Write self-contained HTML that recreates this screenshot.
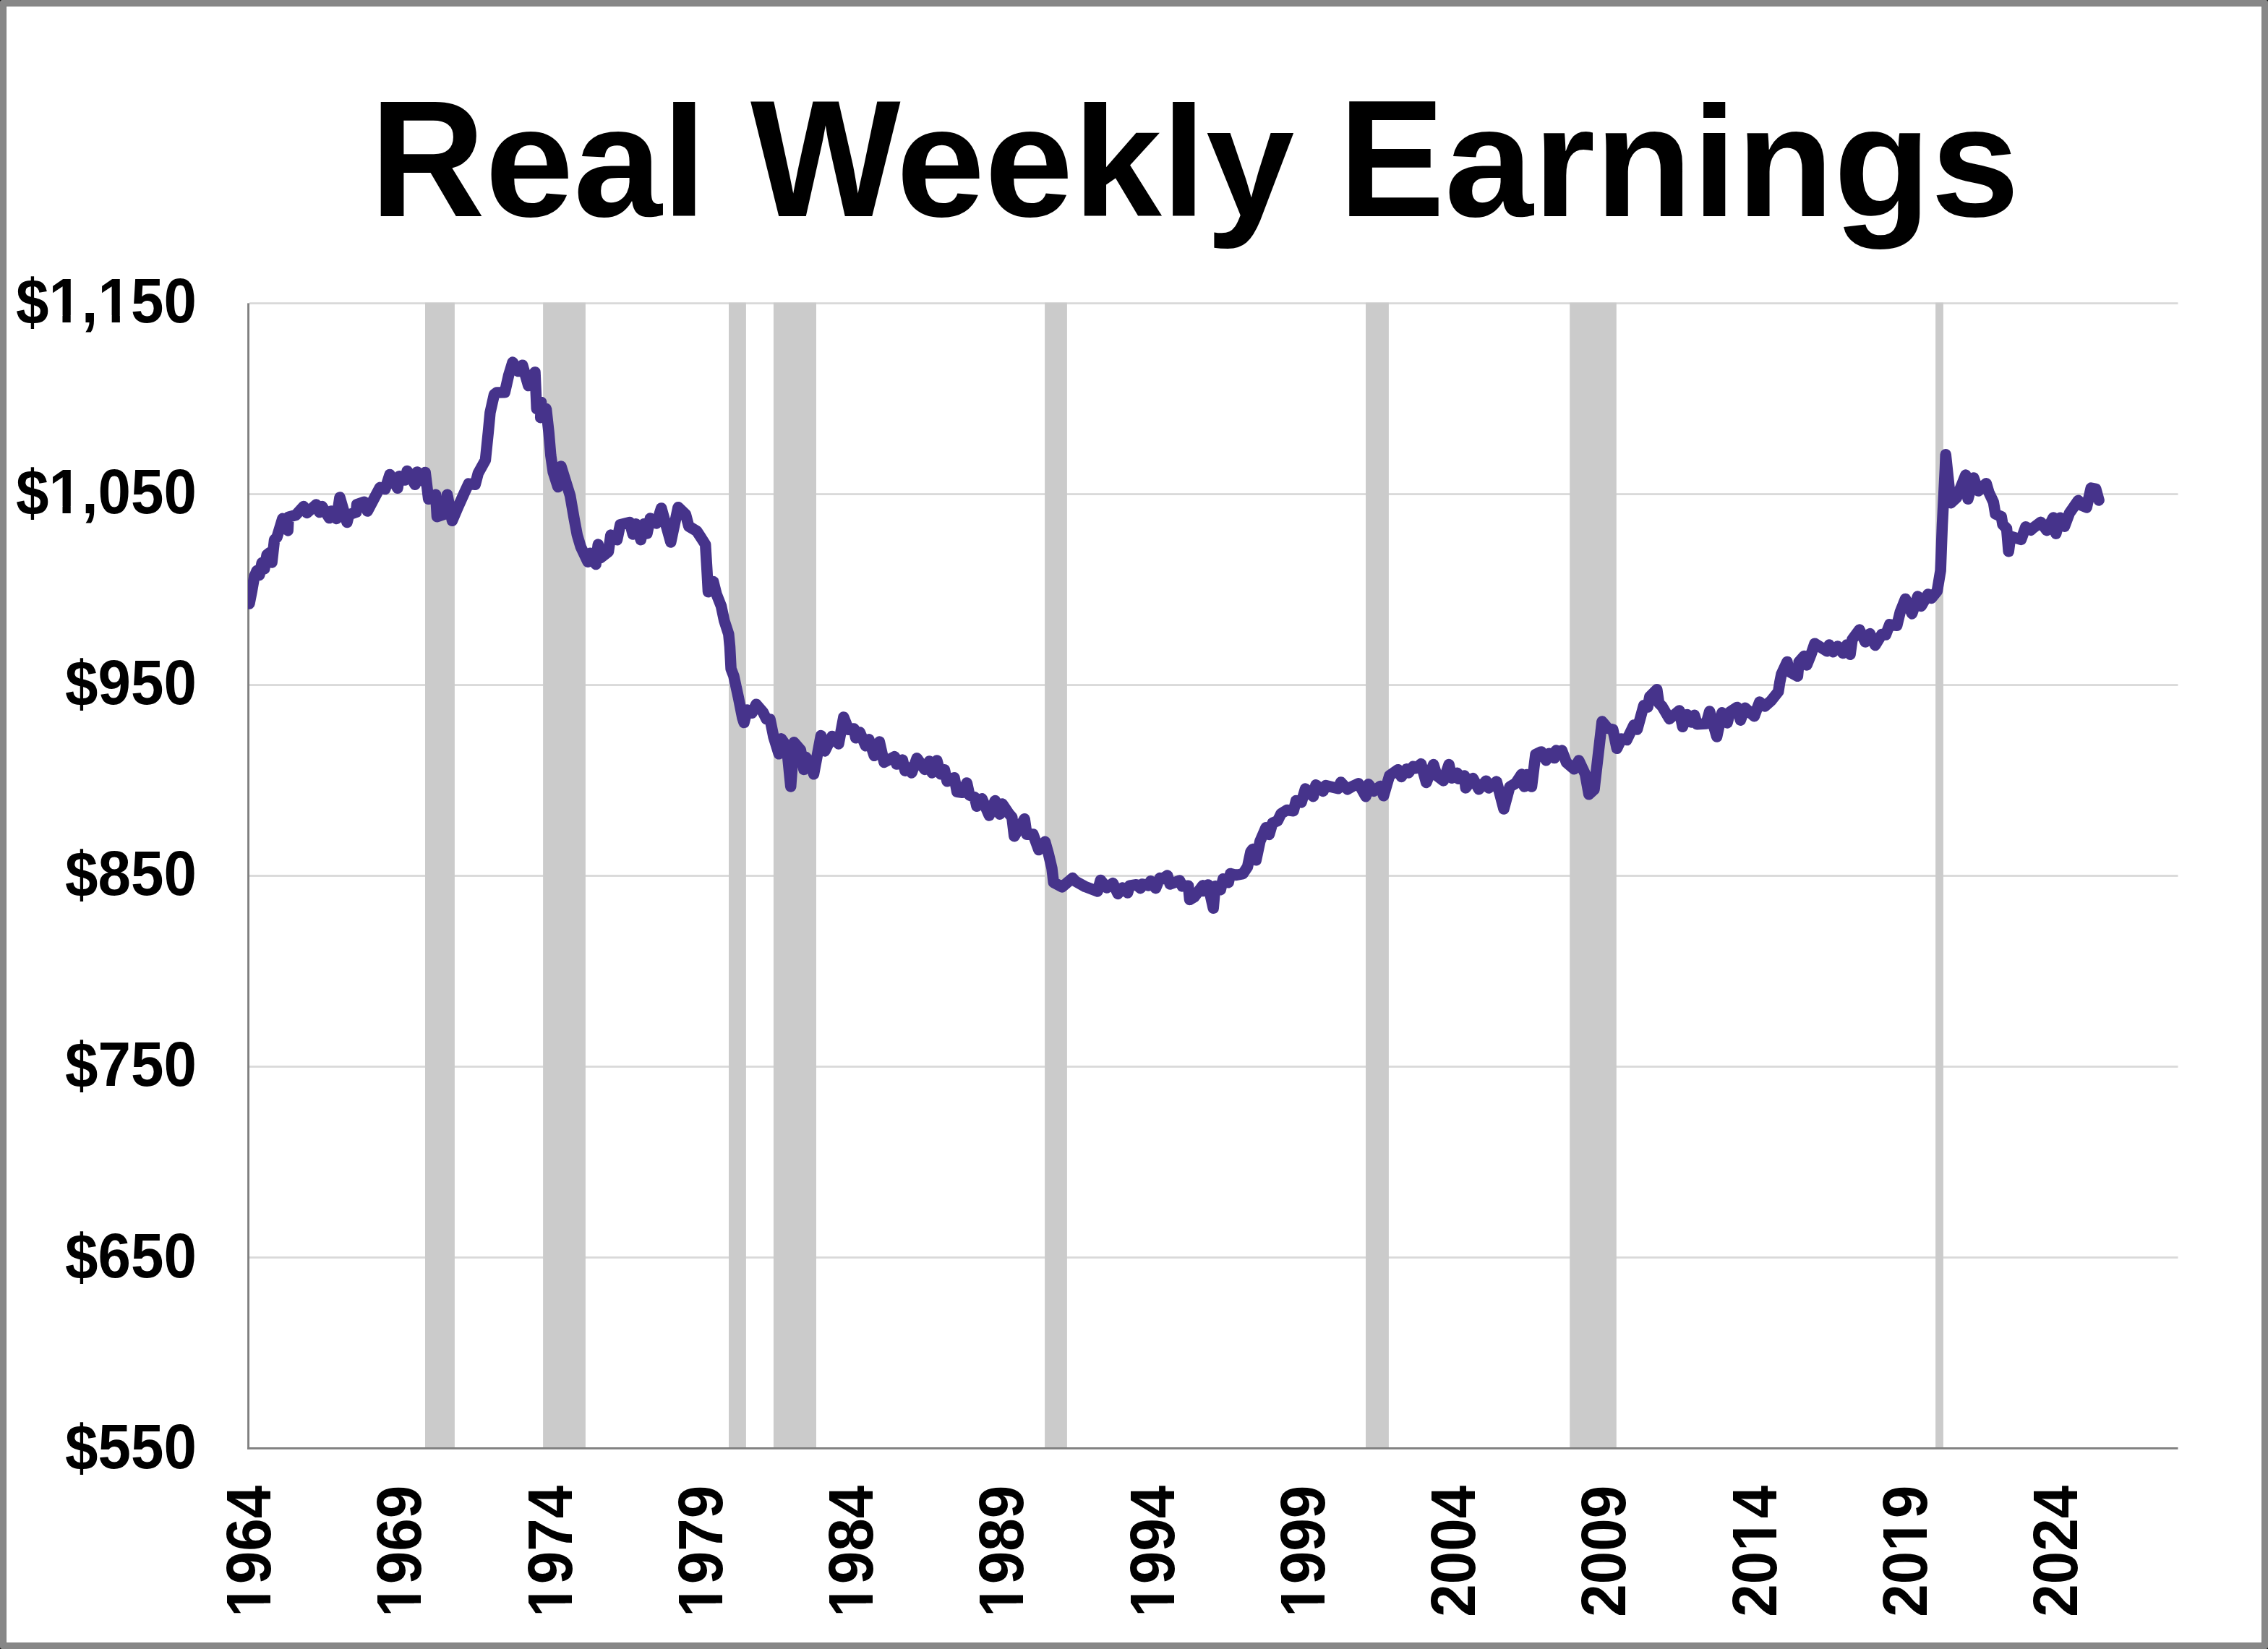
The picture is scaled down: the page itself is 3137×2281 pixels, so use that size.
<!DOCTYPE html>
<html><head><meta charset="utf-8"><title>Real Weekly Earnings</title><style>
html{margin:0;padding:0;background:#fff;}
body{margin:0;padding:0;background:#000;}
body{width:3137px;height:2281px;position:relative;overflow:hidden;font-family:"Liberation Sans",sans-serif;font-weight:bold;color:#000;}
.frame{position:absolute;left:0;top:0;width:3137px;height:2281px;border:8px solid #878787;border-radius:3px;box-sizing:border-box;background:#fff;}
.frame2{position:absolute;left:0;top:0;right:0;bottom:0;border:1px solid #7f7f7f;}
.t{position:absolute;white-space:nowrap;line-height:1;transform-origin:0 186.61px;}
.t span{display:inline-block;transform-origin:0 186.61px;}
.t .c{transform:scaleY(1.041);}
.t .l{transform:scaleY(0.985);}
.yl{position:absolute;font-size:83.50px;line-height:1;white-space:nowrap;text-align:right;width:400px;transform-origin:100% 70.70px;transform:scale(0.979,1.041);}
.xl{position:absolute;font-size:83.50px;line-height:1;white-space:nowrap;transform-origin:0 70.70px;transform:rotate(-90deg) scale(0.979,1.041);}
.o{display:inline-block;clip-path:polygon(0 0,100% 0,100% 60.98px,30.95px 60.98px,30.95px 100%,19.49px 100%,19.49px 60.98px,0 60.98px);}
.d{display:inline-block;transform:translateY(1.6px) scaleY(1.02);}
svg{position:absolute;left:0;top:0;}
</style></head><body>
<div class="frame"><div class="frame2"></div></div>
<div class="t" style="left:512.2px;top:112.8px;font-size:220.40px;transform:scaleX(0.9985);"><span class="c">R</span><span class="l">eal</span> <span class="c" style="margin-right:-6px">W</span><span class="l">eekly</span> <span class="c">E</span><span class="l">arnings</span></div>
<svg width="3137" height="2281" viewBox="0 0 3137 2281">
<defs><clipPath id="pc"><rect x="343" y="300" width="2700" height="1710"/></clipPath></defs>
<rect x="345" y="418.20" width="2667.50" height="2.8" fill="#d9d9d9"/>
<rect x="345" y="682.17" width="2667.50" height="2.8" fill="#d9d9d9"/>
<rect x="345" y="946.13" width="2667.50" height="2.8" fill="#d9d9d9"/>
<rect x="345" y="1210.10" width="2667.50" height="2.8" fill="#d9d9d9"/>
<rect x="345" y="1474.07" width="2667.50" height="2.8" fill="#d9d9d9"/>
<rect x="345" y="1738.03" width="2667.50" height="2.8" fill="#d9d9d9"/>
<rect x="588.00" y="418.7" width="40.90" height="1583.50" fill="#cbcbcb"/>
<rect x="751.10" y="418.7" width="58.80" height="1583.50" fill="#cbcbcb"/>
<rect x="1008.00" y="418.7" width="23.90" height="1583.50" fill="#cbcbcb"/>
<rect x="1069.90" y="418.7" width="59.10" height="1583.50" fill="#cbcbcb"/>
<rect x="1445.10" y="418.7" width="30.80" height="1583.50" fill="#cbcbcb"/>
<rect x="1889.00" y="418.7" width="31.90" height="1583.50" fill="#cbcbcb"/>
<rect x="2171.20" y="418.7" width="64.60" height="1583.50" fill="#cbcbcb"/>
<rect x="2677.10" y="418.7" width="10.80" height="1583.50" fill="#cbcbcb"/>
<rect x="342.1" y="419.4" width="2.9" height="1585.50" fill="#808080"/>
<rect x="342.1" y="2002.0" width="2670.40" height="2.9" fill="#808080"/>
<polyline clip-path="url(#pc)" points="344.9,835.1 348.4,817.3 351.8,797.7 355.3,789.3 358.8,795.5 362.3,778.4 365.7,786.8 369.2,767.5 372.7,764.6 376.1,778.0 379.6,746.7 383.1,743.1 390.9,717.3 398.2,733.9 399.1,715.2 409.1,712.5 420.0,700.6 424.5,709.4 437.3,697.9 441.8,708.5 445.5,700.6 455.5,716.6 458.2,707.0 465.5,717.5 470.0,687.9 480.0,722.5 482.7,711.8 492.7,708.5 493.6,697.9 503.6,694.3 508.2,707.1 525.5,674.3 532.7,676.6 539.1,656.5 550.0,675.3 552.3,658.8 560.0,664.1 563.2,651.5 574.1,670.3 576.8,652.9 582.7,664.8 588.2,653.4 592.7,690.3 602.7,684.3 604.5,714.8 615.5,710.9 618.6,684.3 625.5,720.3 634.1,700.0 642.3,681.8 648.2,669.1 657.3,670.3 661.4,654.5 671.4,636.4 675.3,598.2 677.9,570.9 683.6,545.5 687.3,542.9 698.2,542.7 703.6,519.1 709.1,501.1 716.8,513.6 722.7,505.2 730.9,533.6 740.0,514.7 742.3,565.5 748.6,556.4 747.7,577.7 755.5,565.5 759.1,598.2 761.8,629.9 765.1,652.8 771.7,673.5 776.0,645.1 788.6,685.5 794.3,718.3 798.4,740.1 803.3,756.5 813.1,777.3 816.4,765.2 824.1,780.6 827.3,753.1 830.6,771.7 841.5,763.1 844.8,740.1 853.5,746.7 857.9,725.8 871.0,722.5 875.4,739.1 879.7,724.8 886.3,746.7 890.7,724.8 895.0,738.0 899.4,717.1 908.0,724.0 914.7,702.9 927.8,750.0 938.0,701.7 948.4,711.7 952.7,728.0 963.7,734.6 968.0,741.1 975.7,753.1 977.9,789.2 979.5,818.7 986.6,804.4 991.0,821.9 997.5,838.3 1001.8,858.6 1007.8,877.1 1009.5,894.6 1011.1,925.1 1014.9,935.0 1021.5,965.5 1026.9,992.8 1029.1,999.5 1033.5,981.9 1040.0,986.3 1046.0,974.2 1055.3,985.0 1060.0,994.6 1065.1,995.0 1070.0,1019.1 1077.3,1042.8 1080.5,1021.8 1088.2,1032.8 1093.7,1088.1 1098.2,1026.8 1107.3,1037.3 1111.8,1064.4 1114.6,1047.3 1120.9,1055.7 1125.5,1070.8 1135.5,1017.5 1140.9,1038.9 1151.0,1018.4 1160.0,1028.9 1166.9,992.0 1173.7,1009.1 1181.0,1007.9 1183.7,1020.8 1189.2,1012.9 1197.3,1031.7 1201.9,1022.8 1209.2,1045.3 1216.4,1026.1 1222.8,1054.4 1237.4,1046.6 1240.1,1057.1 1248.3,1051.1 1251.9,1066.2 1258.0,1062.0 1261.0,1069.0 1268.2,1048.8 1279.1,1064.4 1285.5,1052.9 1289.1,1068.9 1295.9,1052.0 1300.9,1070.7 1306.4,1064.7 1310.0,1080.8 1320.0,1075.7 1323.7,1095.3 1330.9,1096.2 1337.3,1082.9 1341.0,1099.8 1348.2,1102.9 1351.0,1115.3 1358.2,1104.8 1368.2,1128.0 1376.4,1107.5 1382.8,1126.2 1386.4,1112.0 1395.5,1125.5 1399.7,1130.3 1402.9,1156.7 1417.1,1132.7 1420.2,1154.3 1428.9,1154.0 1436.8,1175.6 1445.5,1164.3 1450.2,1181.0 1454.9,1200.7 1457.3,1220.6 1469.1,1226.9 1483.5,1214.6 1487.1,1218.8 1501.2,1226.6 1518.1,1232.9 1522.3,1217.4 1530.8,1228.0 1539.3,1221.6 1546.3,1236.4 1552.7,1228.0 1559.7,1235.0 1562.5,1225.1 1571.7,1223.7 1577.4,1228.7 1580.2,1223.0 1588.6,1225.1 1591.5,1218.8 1598.5,1228.7 1604.2,1214.6 1607.0,1216.0 1614.7,1211.0 1618.3,1223.0 1631.7,1218.1 1635.2,1225.9 1643.6,1225.2 1645.5,1244.4 1651.8,1240.8 1663.7,1224.8 1664.6,1232.6 1670.9,1223.9 1678.2,1256.2 1680.9,1225.7 1688.2,1230.8 1691.8,1215.7 1699.1,1220.8 1701.9,1208.4 1710.0,1210.5 1719.1,1208.7 1725.5,1199.1 1730.0,1178.2 1732.8,1174.6 1737.3,1189.8 1742.8,1163.8 1751.0,1144.7 1755.5,1154.4 1760.1,1138.4 1767.3,1135.3 1771.9,1125.5 1780.0,1120.5 1789.1,1121.7 1792.7,1107.5 1800.0,1109.9 1805.5,1091.1 1816.4,1101.7 1820.0,1085.7 1830.0,1094.4 1833.7,1086.6 1850.9,1090.8 1854.6,1082.0 1863.7,1091.7 1871.0,1087.5 1879.1,1083.8 1889.1,1101.7 1892.8,1084.8 1900.1,1094.4 1909.2,1087.5 1913.7,1100.8 1921.9,1072.9 1933.7,1064.7 1938.3,1074.4 1945.5,1063.8 1948.3,1068.9 1954.6,1060.2 1958.3,1062.6 1965.5,1056.6 1972.8,1082.6 1982.7,1057.5 1987.3,1072.8 1996.4,1079.9 2004.1,1057.5 2008.2,1076.2 2015.5,1069.3 2017.3,1077.3 2025.5,1072.9 2027.3,1089.9 2037.3,1076.6 2045.5,1091.7 2055.5,1080.2 2059.1,1089.9 2070.0,1081.1 2080.0,1119.0 2088.2,1088.4 2096.4,1083.5 2104.6,1071.1 2108.2,1088.0 2111.8,1071.6 2118.5,1088.1 2124.0,1043.5 2131.8,1039.9 2138.5,1051.7 2142.7,1042.3 2150.0,1048.6 2152.4,1038.1 2157.0,1042.6 2160.3,1038.1 2166.5,1054.6 2177.3,1063.8 2183.8,1052.0 2192.6,1070.8 2197.7,1098.8 2205.0,1092.0 2215.9,998.0 2223.7,1007.3 2230.9,1009.3 2236.4,1035.3 2242.8,1022.0 2250.0,1023.5 2260.0,1002.9 2264.5,1009.0 2273.6,975.7 2279.1,978.0 2281.8,963.8 2291.8,953.8 2294.6,972.8 2299.1,977.3 2309.1,994.4 2322.8,982.9 2327.3,1005.3 2333.7,988.4 2339.1,999.0 2343.7,989.3 2347.3,1001.7 2360.0,1001.0 2364.6,983.9 2374.6,1019.0 2381.9,985.7 2389.1,999.9 2392.8,984.8 2402.8,978.4 2407.3,996.2 2413.7,979.3 2426.4,990.8 2433.7,971.1 2441.0,977.1 2450.0,968.9 2459.7,956.7 2461.6,944.6 2464.0,932.5 2471.9,915.4 2474.6,929.0 2486.4,935.3 2488.2,915.7 2495.5,907.5 2499.1,919.9 2504.6,906.2 2510.0,890.2 2527.3,900.8 2530.0,892.0 2535.5,901.7 2541.9,893.9 2549.1,903.5 2554.6,891.9 2559.1,905.3 2561.9,884.6 2571.9,871.1 2580.1,888.0 2586.4,876.6 2593.7,892.6 2602.8,877.5 2608.3,878.0 2613.7,863.8 2623.7,865.3 2628.3,846.4 2635.5,828.4 2644.6,848.9 2652.6,825.0 2657.3,838.4 2666.8,821.9 2671.5,827.4 2679.4,817.6 2684.1,789.2 2686.5,726.1 2690.5,647.3 2691.2,628.7 2698.3,695.7 2706.2,688.6 2718.8,657.1 2722.0,690.2 2729.9,661.0 2736.3,679.1 2747.3,668.7 2750.9,681.0 2757.3,694.6 2760.0,711.0 2768.2,714.6 2770.0,725.5 2775.5,731.0 2778.2,762.8 2780.9,741.9 2795.5,746.4 2801.9,728.7 2809.1,733.2 2811.9,730.5 2822.8,722.3 2831.0,733.7 2840.0,716.0 2843.7,738.2 2849.7,716.3 2855.5,728.2 2862.4,709.7 2874.6,692.3 2877.6,698.3 2886.1,702.0 2892.2,675.1 2898.8,676.3 2903.1,692.0" fill="none" stroke="#46338b" stroke-width="15.5" stroke-linejoin="round" stroke-linecap="round"/>
</svg>
<div class="yl" style="left:-128.3px;top:375.9px;"><span class="d">$</span><span class="o">1</span>,<span class="o">1</span>50</div>
<div class="yl" style="left:-128.3px;top:640.0px;"><span class="d">$</span><span class="o">1</span>,050</div>
<div class="yl" style="left:-128.3px;top:904.2px;"><span class="d">$</span>950</div>
<div class="yl" style="left:-128.3px;top:1168.3px;"><span class="d">$</span>850</div>
<div class="yl" style="left:-128.3px;top:1432.4px;"><span class="d">$</span>750</div>
<div class="yl" style="left:-128.3px;top:1696.6px;"><span class="d">$</span>650</div>
<div class="yl" style="left:-128.3px;top:1960.7px;"><span class="d">$</span>550</div>
<div class="xl" style="left:375.0px;top:2165.7px;"><span class="o">1</span>964</div>
<div class="xl" style="left:583.3px;top:2165.7px;"><span class="o">1</span>969</div>
<div class="xl" style="left:791.5px;top:2165.7px;"><span class="o">1</span>974</div>
<div class="xl" style="left:999.8px;top:2165.7px;"><span class="o">1</span>979</div>
<div class="xl" style="left:1208.1px;top:2165.7px;"><span class="o">1</span>984</div>
<div class="xl" style="left:1416.3px;top:2165.7px;"><span class="o">1</span>989</div>
<div class="xl" style="left:1624.6px;top:2165.7px;"><span class="o">1</span>994</div>
<div class="xl" style="left:1832.9px;top:2165.7px;"><span class="o">1</span>999</div>
<div class="xl" style="left:2041.1px;top:2165.7px;">2004</div>
<div class="xl" style="left:2249.4px;top:2165.7px;">2009</div>
<div class="xl" style="left:2457.7px;top:2165.7px;">20<span class="o">1</span>4</div>
<div class="xl" style="left:2665.9px;top:2165.7px;">20<span class="o">1</span>9</div>
<div class="xl" style="left:2874.2px;top:2165.7px;">2024</div>
</body></html>
